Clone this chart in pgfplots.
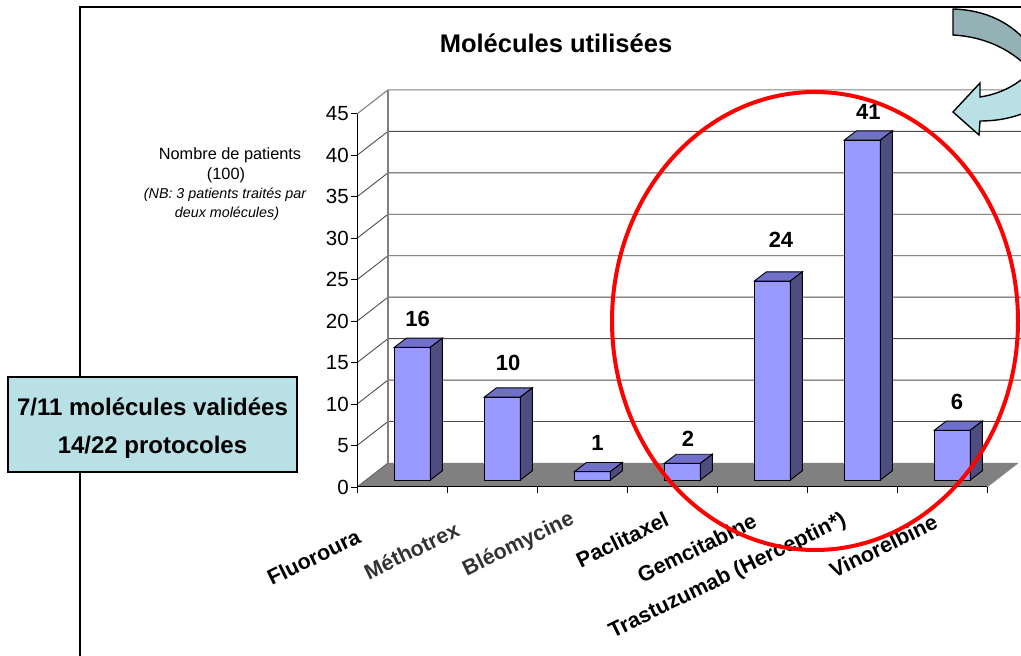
\documentclass[border=0pt]{standalone}
\usepackage{fontspec}
\setmainfont{Liberation Sans}
\usepackage{pgfplots}
\pgfplotsset{compat=1.18}
\usepackage{pgfplotstable}

\definecolor{barfront}{RGB}{153,153,255}
\definecolor{bartop}{RGB}{112,112,200}
\definecolor{barside}{RGB}{77,77,128}
\definecolor{floorgray}{RGB}{128,128,128}
\definecolor{boxcyan}{RGB}{185,224,228}
\definecolor{arrowdark}{RGB}{148,178,182}
\definecolor{arrowlight}{RGB}{185,225,229}

% x = category index, v = number of patients, lx/ly = position of the value label
\pgfplotstableread{
x v lx ly
0 16 0.674 20.27
1 10 1.678 14.96
2 1 2.672 5.31
3 2 3.678 5.79
4 24 4.711 29.8
5 41 5.683 45.23
6 6 6.667 10.25
}\data

% 3D bar: #1 = category index, #2 = value
\newcommand\threedbar[2]{%
 \edef\tmp{%
  \noexpand\addplot[fill=barfront, draw=black, line width=0.9pt] coordinates {(\fpeval{#1+0.415},0.85) (\fpeval{#1+0.815},0.85) (\fpeval{#1+0.815},\fpeval{#2+0.85}) (\fpeval{#1+0.415},\fpeval{#2+0.85})} -- cycle;
  \noexpand\addplot[fill=bartop, draw=black, line width=0.9pt] coordinates {(\fpeval{#1+0.415},\fpeval{#2+0.85}) (\fpeval{#1+0.815},\fpeval{#2+0.85}) (\fpeval{#1+0.948},\fpeval{#2+1.95}) (\fpeval{#1+0.548},\fpeval{#2+1.95})} -- cycle;
  \noexpand\addplot[fill=barside, draw=black, line width=0.9pt] coordinates {(\fpeval{#1+0.815},0.85) (\fpeval{#1+0.948},1.95) (\fpeval{#1+0.948},\fpeval{#2+1.95}) (\fpeval{#1+0.815},\fpeval{#2+0.85})} -- cycle;
 }\tmp}

\begin{document}
\begin{tikzpicture}
\useasboundingbox (0,0) rectangle (1021pt,656pt);
\clip (0,0) rectangle (1021pt,656pt);
\begin{scope}[shift={(0,656pt)}, x=1pt, y=-1pt]
 \draw[line width=1.3pt] (80,662) -- (80,7) -- (1025,7);
\end{scope}
\begin{axis}[
 at={(357pt,169pt)}, anchor=south west,
 x=90pt, y=8.29pt,
 xmin=0, xmax=7, ymin=0, ymax=45,
 clip=false, axis on top,
 axis x line*=bottom, axis y line*=left,
 axis line style={black, line width=1pt, -},
 xtick={0,...,7}, xticklabels={},
 ytick={0,5,...,45},
 tick align=outside, major tick length=6pt,
 tick style={black, line width=0.9pt},
 yticklabel style={font=\fontsize{20.5}{20.5}\selectfont, inner sep=2pt},
 /pgf/number format/assume math mode=true,
]
% walls and gridlines
\pgfplotsinvokeforeach{5,10,...,40}{
 \draw[black!70, line width=0.9pt] (axis cs:0,#1) -- (axis cs:0.344,#1+2.895) -- (axis cs:7.6,#1+2.895);
}
\draw[black!50, line width=1.1pt] (axis cs:0,45) -- (axis cs:0.344,47.895) -- (axis cs:7.6,47.895);
\draw[black!50, line width=1.1pt] (axis cs:0.344,2.895) -- (axis cs:0.344,47.895);
% floor
\fill[floorgray] (axis cs:0,0) -- (axis cs:7,0) -- (axis cs:7.344,2.895) -- (axis cs:0.344,2.895) -- cycle;
\draw[black!60, line width=0.9pt] (axis cs:0,0) -- (axis cs:0.344,2.895);
\draw[black!45, line width=0.9pt] (axis cs:7,0) -- (axis cs:7.344,2.895);
% bars
\threedbar{0}{16}
\threedbar{1}{10}
\threedbar{2}{1}
\threedbar{3}{2}
\threedbar{4}{24}
\threedbar{5}{41}
\threedbar{6}{6}
% value labels
\addplot[draw=none, mark=none, nodes near coords, point meta=explicit,
 nodes near coords style={anchor=center, inner sep=0pt, font=\bfseries\fontsize{22}{22}\selectfont}]
 table[x=lx, y=ly, meta=v] {\data};
% category labels
\tikzset{catlab/.style={rotate=26, anchor=east, inner sep=0pt, font=\bfseries\fontsize{21.5}{21.5}\selectfont}}
\node[catlab] at (axis cs:0.022,-5.79) {Fluoroura};
\node[catlab, text=black!80] at (axis cs:1.122,-4.94) {Méthotrex};
\node[catlab, text=black!80] at (axis cs:2.4,-3.74) {Bléomycine};
\node[catlab] at (axis cs:3.444,-3.7) {Paclitaxel};
\node[catlab] at (axis cs:4.422,-3.95) {Gemcitabine};
\node[catlab] at (axis cs:5.422,-3.86) {Trastuzumab (Herceptin*)};
\node[catlab] at (axis cs:6.433,-4.05) {Vinorelbine};
\end{axis}
\begin{scope}[shift={(0,656pt)}, x=1pt, y=-1pt]
 % title
 \node[font=\bfseries\fontsize{25.5}{25.5}\selectfont] at (556,43) {Molécules utilisées};
 % y description
 \node[font=\fontsize{16.3}{16.3}\selectfont] at (230,155) {Nombre de patients};
 \node[font=\fontsize{16.3}{16.3}\selectfont] at (226,175) {(100)};
 \node[font=\itshape\fontsize{14.3}{14.3}\selectfont] at (225,195) {(NB: 3 patients traités par};
 \node[font=\itshape\fontsize{14.3}{14.3}\selectfont] at (227,214) {deux molécules)};
 % box
 \draw[fill=boxcyan, line width=1.5pt] (8,377) rectangle (297,472);
 \node[font=\bfseries\fontsize{24}{24}\selectfont] at (152.5,407) {7/11 molécules validées};
 \node[font=\bfseries\fontsize{24}{24}\selectfont] at (152.5,447) {14/22 protocoles};
 % ellipse
 \draw[red, line width=4pt] (815,321) ellipse [x radius=203, y radius=229];
 % curved arrow
 \draw[fill=arrowdark, line width=1.4pt] (953,9) .. controls (985,10) and (1012,22) .. (1032,48)
   -- (1032,72) .. controls (1015,52) and (988,37) .. (953,35) -- cycle;
 \draw[fill=arrowlight, line width=1.4pt] (1032,70) .. controls (1018,85) and (1000,94) .. (980,97)
   -- (980,83) -- (953,112) -- (979,135) -- (980,121) .. controls (1000,121) and (1018,117) .. (1035,108) -- cycle;
\end{scope}
\end{tikzpicture}
\end{document}
